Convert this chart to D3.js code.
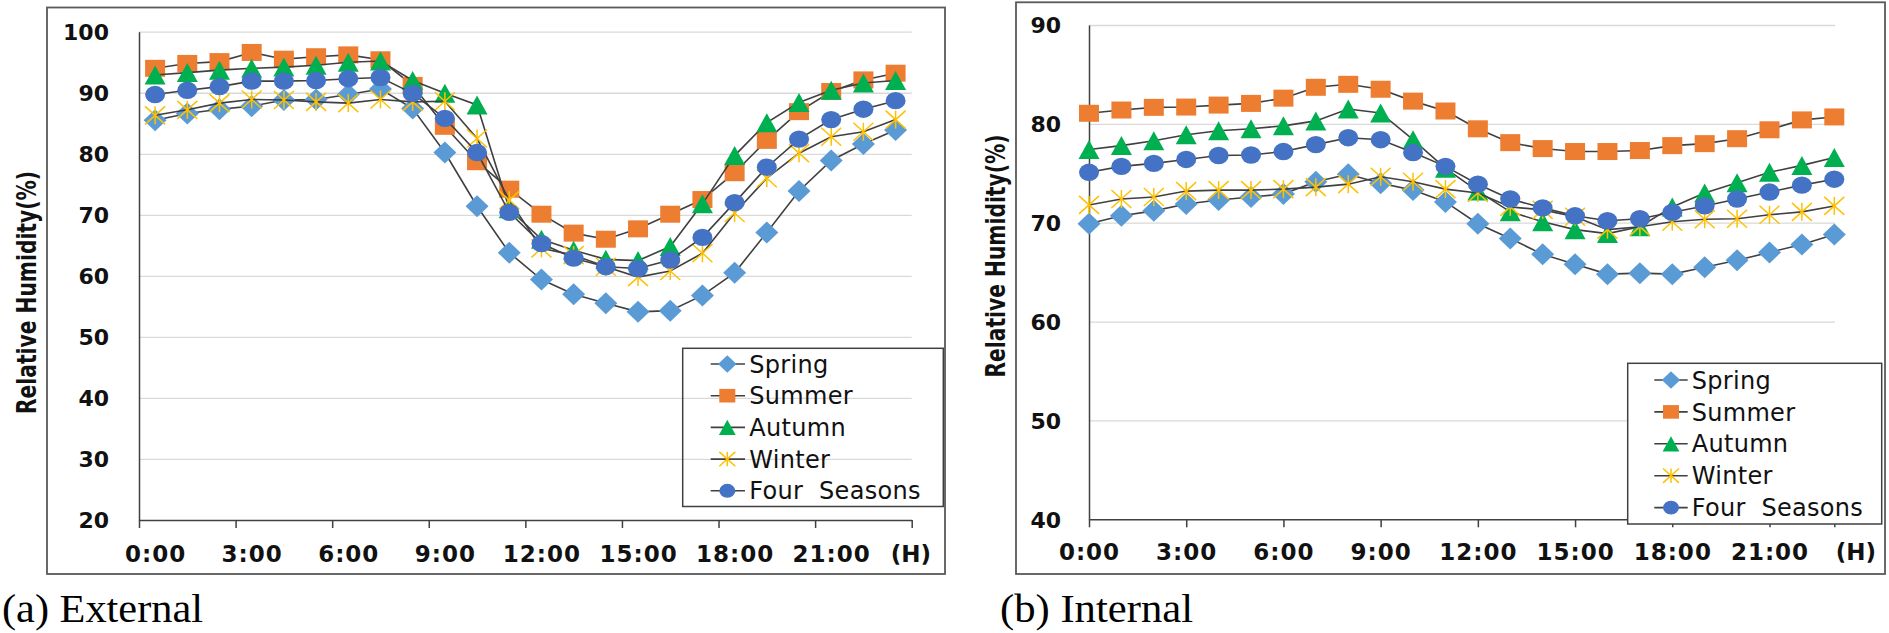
<!DOCTYPE html>
<html><head><meta charset="utf-8">
<script src="https://cdn.jsdelivr.net/npm/d3@7"></script>
<style>body{margin:0;background:#fff;} svg{display:block;}</style>
</head><body>
<svg id="c" width="1889" height="633"></svg>
<script>
// ---------- data ----------
const hours = d3.range(24);
const tickHours = [0, 3, 6, 9, 12, 15, 18, 21];
const tickLabels = ["0:00", "3:00", "6:00", "9:00", "12:00", "15:00", "18:00", "21:00"];
const seriesNames = ["Spring", "Summer", "Autumn", "Winter", "Four Seasons"];
const seriesColors = ["#5B9BD5", "#ED7D31", "#00B050", "#FFC000", "#4472C4"];
const seriesShapes = ["diamond", "square", "triangle", "star", "circle"];

const extYTicks = [20, 30, 40, 50, 60, 70, 80, 90, 100];
const intYTicks = [40, 50, 60, 70, 80, 90];

const extSpring = [85.5,86.6,87.3,87.8,88.8,88.9,89.7,90.6,87.4,80.2,71.4,63.8,59.4,57.0,55.5,54.1,54.3,56.8,60.5,67.1,73.9,78.9,81.6,83.9];
const extSummer = [94.0,94.8,95.1,96.6,95.5,95.9,96.2,95.4,91.2,84.5,78.7,74.2,70.1,67.0,66.0,67.7,70.1,72.5,76.9,82.2,86.9,90.2,92.1,93.2];
const extAutumn = [92.9,93.3,93.7,94.0,94.2,94.5,95.0,95.2,92.0,89.9,88.0,71.0,66.0,64.2,62.7,62.5,64.8,71.8,79.7,85.1,88.4,90.4,91.6,92.0];
const extWinter = [86.3,87.2,88.3,88.9,88.8,88.5,88.3,88.9,88.5,88.6,82.5,72.4,64.5,63.4,61.5,59.8,60.8,63.7,70.3,76.0,80.1,82.8,83.6,85.6];
const extFour   = [89.7,90.4,91.0,91.9,91.9,92.0,92.3,92.5,89.9,85.8,80.2,70.4,65.3,62.9,61.5,61.2,62.6,66.3,72.0,77.8,82.4,85.6,87.3,88.7];

const intSpring = [69.9,70.7,71.2,71.9,72.3,72.6,72.9,74.15,74.9,74.0,73.3,72.1,69.9,68.4,66.8,65.8,64.8,64.9,64.8,65.5,66.2,67.0,67.8,68.8];
const intSummer = [81.07,81.4,81.67,81.7,81.9,82.07,82.6,83.7,84.0,83.5,82.3,81.3,79.5,78.1,77.5,77.2,77.2,77.3,77.8,78.0,78.5,79.4,80.4,80.7];
const intAutumn = [77.4,77.8,78.3,78.9,79.3,79.5,79.8,80.3,81.5,81.1,78.4,75.5,73.2,71.1,70.1,69.3,68.9,69.6,71.6,73.0,74.05,75.1,75.8,76.6];
const intWinter = [71.8,72.4,72.6,73.2,73.3,73.3,73.4,73.6,73.9,74.65,74.15,73.4,73.0,71.6,71.3,70.6,69.3,69.6,70.1,70.35,70.4,70.8,71.1,71.7];
const intFour   = [75.1,75.7,76.0,76.4,76.8,76.85,77.2,77.9,78.6,78.4,77.1,75.7,73.9,72.4,71.5,70.7,70.2,70.4,71.05,71.7,72.4,73.1,73.8,74.4];

// ---------- drawing ----------
const svg = d3.select("#c");
const BOLD = "'DejaVu Sans', Verdana, sans-serif";

function marker(g, shape, color, k) {
  if (shape === "diamond") {
    g.append("path").attr("d", `M0,${-11*k} L${11.5*k},0 L0,${11*k} L${-11.5*k},0 Z`).attr("fill", color);
  } else if (shape === "square") {
    g.append("rect").attr("x", -10*k).attr("y", -8.5*k).attr("width", 20*k).attr("height", 17*k).attr("fill", color);
  } else if (shape === "triangle") {
    g.append("path").attr("d", `M0,${-9.5*k} L${10.5*k},${9.5*k} L${-10.5*k},${9.5*k} Z`).attr("fill", color);
  } else if (shape === "circle") {
    g.append("ellipse").attr("rx", 10*k).attr("ry", 8.7*k).attr("fill", color);
  } else if (shape === "star") {
    const s = g.append("g").attr("stroke", color).attr("stroke-width", 1.5).attr("fill", "none");
    s.append("line").attr("x1", 0).attr("y1", -9*k).attr("x2", 0).attr("y2", 9*k);
    s.append("line").attr("x1", -10*k).attr("y1", -9*k).attr("x2", 10*k).attr("y2", 9*k);
    s.append("line").attr("x1", -10*k).attr("y1", 9*k).attr("x2", 10*k).attr("y2", -9*k);
  }
}

function chart(c) {
  const g = svg.append("g");
  // outer frame
  g.append("rect").attr("x", c.frame[0]).attr("y", c.frame[1]).attr("width", c.frame[2]).attr("height", c.frame[3])
    .attr("fill", "none").attr("stroke", "#595959").attr("stroke-width", 1.8);

  const x = d3.scaleLinear().domain(c.xDomain).range([c.xL, c.xR]);
  const y = d3.scaleLinear().domain([c.yTicks[0], c.yTicks[c.yTicks.length - 1]]).range([c.yB, c.yT]);

  // gridlines
  const grid = g.append("g").attr("transform", `translate(${c.xL},0)`)
    .call(d3.axisLeft(y).tickValues(c.yTicks.slice(1)).tickSize(-(c.gridR - c.xL)).tickFormat(""));
  grid.select(".domain").remove();
  grid.selectAll("line").attr("stroke", "#d9d9d9").attr("stroke-width", 1.3);

  // y axis
  const ya = g.append("g").attr("transform", `translate(${c.xL},0)`)
    .call(d3.axisLeft(y).tickValues(c.yTicks).tickSize(0).tickPadding(c.yPad));
  ya.select(".domain").attr("stroke", "#404040").attr("stroke-width", 1.5);
  ya.selectAll("text").attr("font-family", BOLD).attr("font-weight", "bold").attr("font-size", 22)
    .attr("fill", "#111").attr("dy", "0.36em");

  // x axis line + ticks
  const xa = g.append("g").attr("transform", `translate(0,${c.yB})`)
    .call(d3.axisBottom(x).tickValues(c.tickVals).tickSize(8).tickSizeOuter(0).tickFormat(""));
  xa.select(".domain").attr("stroke", "#404040").attr("stroke-width", 1.5);
  xa.selectAll("line").attr("stroke", "#404040").attr("stroke-width", 1.5);

  // x labels
  const xl = g.append("g").attr("transform", `translate(0,${c.yB})`)
    .call(d3.axisBottom(x).tickValues(tickHours.map(h => h + c.offset)).tickSize(0)
      .tickFormat((d, i) => tickLabels[i]));
  xl.select(".domain").remove();
  xl.selectAll("text").attr("y", c.xLabBase).attr("dy", null)
    .attr("font-family", BOLD).attr("font-weight", "bold").attr("font-size", 23)
    .attr("letter-spacing", 1).attr("fill", "#111");

  g.append("text").attr("x", c.hX).attr("y", c.yB + c.xLabBase).attr("text-anchor", "middle")
    .attr("font-family", BOLD).attr("font-weight", "bold").attr("font-size", 23).attr("fill", "#111").text("(H)");

  // y title
  g.append("text").attr("transform", `translate(${c.yTitleX},${c.yTitleY}) rotate(-90)`)
    .attr("text-anchor", "middle").attr("font-family", BOLD).attr("font-weight", "bold").attr("font-size", 27)
    .attr("textLength", 243).attr("lengthAdjust", "spacingAndGlyphs").attr("fill", "#111")
    .text("Relative Humidity(%)");

  // series
  const line = d3.line().x((d, i) => x(hours[i] + c.offset)).y(d => y(d));
  c.series.forEach((vals, si) => {
    const sg = g.append("g");
    sg.append("path").datum(vals).attr("d", line).attr("fill", "none").attr("stroke", "#404040").attr("stroke-width", 1.6);
    vals.forEach((v, i) => {
      const mg = sg.append("g").attr("transform", `translate(${x(hours[i] + c.offset)},${y(v)})`);
      marker(mg, seriesShapes[si], seriesColors[si], 1);
    });
  });

  // legend
  const L = c.legend;
  g.append("rect").attr("x", L.x).attr("y", L.y).attr("width", L.w).attr("height", L.h)
    .attr("fill", L.fill).attr("stroke", "#404040").attr("stroke-width", 1.5);
  seriesNames.forEach((n, i) => {
    const ry = L.row0 + i * L.step;
    g.append("line").attr("x1", L.l1).attr("x2", L.l2).attr("y1", ry).attr("y2", ry)
      .attr("stroke", "#404040").attr("stroke-width", 1.6);
    const mg = g.append("g").attr("transform", `translate(${L.mx},${ry})`);
    marker(mg, seriesShapes[i], seriesColors[i], 0.8);
    g.append("text").attr("x", L.tx).attr("y", ry).attr("dy", "0.36em")
      .attr("font-family", "'DejaVu Sans', sans-serif").attr("font-size", 24).attr("fill", "#111")
      .attr("letter-spacing", 0.3).style("white-space", "pre").text(n === "Four Seasons" ? "Four  Seasons" : n);
  });

  // caption
  g.append("text").attr("x", c.cap[0]).attr("y", c.cap[1]).attr("font-family", "'Liberation Serif', 'Times New Roman', serif")
    .attr("font-size", 40).attr("textLength", c.cap[2]).attr("lengthAdjust", "spacingAndGlyphs").attr("fill", "#000").text(c.cap[3]);
}

chart({
  frame: [47, 7.5, 898, 566.5],
  xDomain: [0, 24], xL: 139, xR: 911.7, gridR: 911.7, offset: 0.5,
  tickVals: [0, 3, 6, 9, 12, 15, 18, 21, 24],
  yTicks: extYTicks, yT: 31.7, yB: 520, yPad: 30,
  xLabBase: 41.7, hX: 911,
  yTitleX: 36, yTitleY: 292.5,
  series: [extSpring, extSummer, extAutumn, extWinter, extFour],
  legend: {x: 682.7, y: 348.3, w: 260.6, h: 158.2, fill: "none", row0: 364, step: 31.7, l1: 710.7, l2: 745, mx: 727.3, tx: 749.3},
  cap: [2, 621.7, 201, "(a) External"]
});

chart({
  frame: [1016, 2.3, 869, 571.7],
  xDomain: [0, 23], xL: 1089, xR: 1834.3, gridR: 1835, offset: 0,
  tickVals: [0, 3, 6, 9, 12, 15, 18, 21, 23],
  yTicks: intYTicks, yT: 25, yB: 519.3, yPad: 28,
  xLabBase: 40.7, hX: 1856,
  yTitleX: 1005, yTitleY: 256,
  series: [intSpring, intSummer, intAutumn, intWinter, intFour],
  legend: {x: 1627.7, y: 363.3, w: 254, h: 160.7, fill: "#fff", row0: 380, step: 31.9, l1: 1654.3, l2: 1687.7, mx: 1671, tx: 1691.7},
  cap: [1000, 621.7, 193, "(b) Internal"]
});
</script>
</body></html>
